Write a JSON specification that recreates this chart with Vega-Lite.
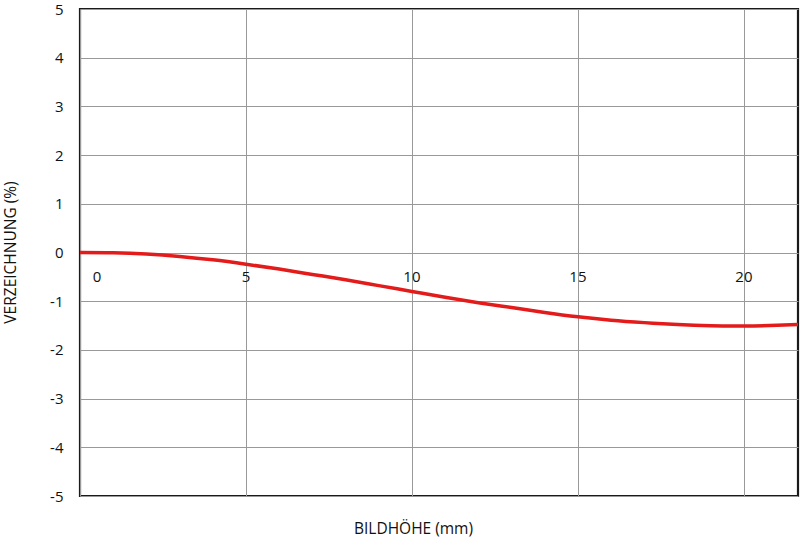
{
  "$schema": "https://vega.github.io/schema/vega-lite/v6.json",
  "autosize": "none",
  "width": 718,
  "height": 487,
  "padding": {"left": 80, "top": 9, "right": 2, "bottom": 43},
  "background": "white",
  "config": {
    "view": {"stroke": "#1a1a1a", "strokeWidth": 2.2},
    "font": "Open Sans"
  },
  "datasets": {
    "curve": [
      {"h": 0, "v": 0},
      {"h": 1, "v": -0.005},
      {"h": 2, "v": -0.03},
      {"h": 3, "v": -0.08},
      {"h": 4, "v": -0.15},
      {"h": 5, "v": -0.24},
      {"h": 6, "v": -0.34},
      {"h": 7, "v": -0.45},
      {"h": 8, "v": -0.56},
      {"h": 9, "v": -0.68},
      {"h": 10, "v": -0.8},
      {"h": 11, "v": -0.92},
      {"h": 12, "v": -1.03},
      {"h": 13, "v": -1.13},
      {"h": 14, "v": -1.23},
      {"h": 15, "v": -1.32},
      {"h": 16, "v": -1.39},
      {"h": 17, "v": -1.44},
      {"h": 18, "v": -1.48},
      {"h": 19, "v": -1.505},
      {"h": 20, "v": -1.51},
      {"h": 21, "v": -1.495},
      {"h": 21.63, "v": -1.48}
    ],
    "ticks": [
      {"h": 5, "v": -0.5, "label": "5"},
      {"h": 10, "v": -0.5, "label": "10"},
      {"h": 15, "v": -0.5, "label": "15"},
      {"h": 20, "v": -0.5, "label": "20"}
    ],
    "zero": [
      {"h": 0, "v": -0.5, "label": "0"}
    ]
  },
  "layer": [
    {
      "data": {"name": "curve"},
      "mark": {"type": "line", "color": "#e31b1b", "strokeWidth": 3.5, "interpolate": "natural", "clip": true},
      "encoding": {
        "x": {
          "field": "h", "type": "quantitative",
          "scale": {"domain": [0, 21.63], "nice": false, "zero": false},
          "axis": {
            "values": [0, 5, 10, 15, 20],
            "grid": true, "gridColor": "#999999", "gridWidth": 1, "gridOpacity": 1,
            "labels": false, "ticks": false, "domain": false,
            "title": "BILDHÖHE (mm)",
            "titleFont": "Open Sans", "titleFontSize": 15.5, "titleFontWeight": "normal", "titleColor": "#111111",
            "titleAnchor": "start", "titleAlign": "center", "titleX": 333, "titleY": 32, "titleBaseline": "middle"
          }
        },
        "y": {
          "field": "v", "type": "quantitative",
          "scale": {"domain": [-5, 5], "nice": false},
          "axis": {
            "values": [-5, -4, -3, -2, -1, 0, 1, 2, 3, 4, 5],
            "labelExpr": "'' + datum.value",
            "grid": true, "gridColor": "#999999", "gridWidth": 1, "gridOpacity": 1,
            "ticks": false, "domain": false,
            "labelFont": "Open Sans", "labelFontSize": 15, "labelColor": "#111111", "labelPadding": 17,
            "title": "VERZEICHNUNG (%)",
            "titleFont": "Open Sans", "titleFontSize": 15.5, "titleFontWeight": "normal", "titleColor": "#111111",
            "titleAngle": -90, "titleAnchor": "start", "titleAlign": "center", "titleX": -70, "titleY": 243, "titleBaseline": "middle"
          }
        }
      }
    },
    {
      "data": {"name": "ticks"},
      "mark": {"type": "text", "font": "Open Sans", "fontSize": 15, "color": "#111111", "align": "center", "baseline": "middle"},
      "encoding": {
        "x": {"field": "h", "type": "quantitative"},
        "y": {"field": "v", "type": "quantitative"},
        "text": {"field": "label"}
      }
    },
    {
      "data": {"name": "zero"},
      "mark": {"type": "text", "font": "Open Sans", "fontSize": 15, "color": "#111111", "align": "center", "baseline": "middle", "dx": 17},
      "encoding": {
        "x": {"field": "h", "type": "quantitative"},
        "y": {"field": "v", "type": "quantitative"},
        "text": {"field": "label"}
      }
    }
  ]
}
